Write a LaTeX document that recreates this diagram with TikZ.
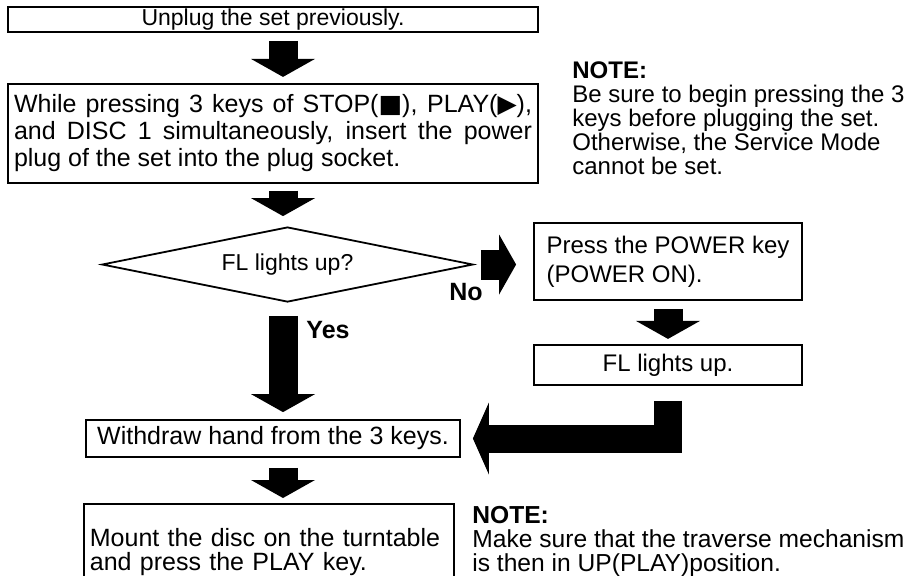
\documentclass[tikz,border=0pt]{standalone}
\usepackage{fontspec}
\setmainfont{Liberation Sans}
\newfontfamily\symfont{DejaVu Sans}
\usetikzlibrary{arrows.meta,shapes.geometric,positioning}

\begin{document}
\begin{tikzpicture}[
    x=0.5pt, y=-0.5pt,
    box/.style={draw, line width=0.9pt, inner sep=0pt, font=\fontsize{12}{14.5}\selectfont},
    note/.style={anchor=north west, inner sep=0pt, align=left},
    lbl/.style={inner sep=0pt, font=\fontsize{12.5}{12.5}\selectfont\bfseries},
    blk/.style={line width=14.5pt, -{Triangle[width=32pt,length=9pt,line width=0pt]}},
    blkr/.style={line width=15pt, -{Triangle[width=30pt,length=8.5pt,line width=0pt]}},
    blkl/.style={line width=14pt, line join=miter, -{Triangle[width=36pt,length=8pt,line width=0pt]}}
]
\useasboundingbox (0,0) rectangle (911,575);
\coordinate (cx) at (283,0);

% left column
\node[box, minimum width=265pt, minimum height=12.5pt, font=\fontsize{11.5}{13}\selectfont] (unplug) at (273,19.5) {Unplug the set previously.};
\node[box, below=25pt of unplug, minimum width=265pt, minimum height=49.5pt, text width=259pt, align=justify,
      font=\fontsize{12.5}{13.5}\selectfont] (press3)
     {While pressing 3 keys of STOP({\symfont ■}), PLAY({\symfont ▶}),\linebreak and DISC 1 simultaneously, insert the power\linebreak plug of the set into the plug socket.};
\node[box, diamond, aspect=4.95, minimum width=185.5pt, minimum height=37.5pt, font=\fontsize{11.5}{13}\selectfont] (dia) at (287.5,264.5) {FL lights up?};
\node[box, minimum width=187pt, minimum height=18.5pt, font=\fontsize{12.5}{14}\selectfont] (withdraw) at (273,438.5) {Withdraw hand from the 3 keys.};
\node[box, anchor=north west, inner xsep=3pt, inner ysep=12pt, text depth=40pt, minimum width=185pt, text width=179pt, align=left,
      font=\fontsize{12.5}{12}\selectfont] (mount) at (83,503) {Mount the disc on the turntable\\and press the PLAY key.};

% right column
\node[box, minimum width=134pt, minimum height=38.5pt, align=left] (power) at (668,261.5) {Press the POWER key\\(POWER ON).};
\node[box, below=21.5pt of power, minimum width=134pt, minimum height=20pt] (fl) {FL lights up.};

% notes and labels
\node[note, font=\fontsize{12}{12}\selectfont] (note1) at (572,61.4) {\textbf{NOTE:}\\Be sure to begin pressing the 3\\keys before plugging the set.\\Otherwise, the Service Mode\\cannot be set.};
\node[note, font=\fontsize{12.3}{12}\selectfont] (note2) at (472,506) {\textbf{NOTE:}\\Make sure that the traverse mechanism\\is then in UP(PLAY)position.};
\node[lbl] (no) at (466,292) {No};
\node[lbl] (yes) at (328,330) {Yes};

% block arrows
\draw[blk, shorten <=4pt, shorten >=3pt] (unplug.south -| cx) -- (press3.north -| cx);
\draw[blk, shorten <=3.5pt, shorten >=5pt] (press3.south -| cx) -- (dia.north -| cx);
\draw[blkr, shorten <=3.5pt, shorten >=8.5pt] (dia.east) -- (power.west |- dia.east);
\draw[blk, shorten <=4pt, shorten >=2.5pt] (power.south) -- (fl.north);
\draw[blk, shorten <=6.5pt, shorten >=3.5pt] (dia.south -| cx) -- (withdraw.north -| cx);
\draw[blkl, shorten <=7.5pt, shorten >=6pt] (fl.south) |- (withdraw.east);
\draw[blk, shorten <=5pt, shorten >=2.5pt] (withdraw.south -| cx) -- (mount.north -| cx);
\end{tikzpicture}
\end{document}
